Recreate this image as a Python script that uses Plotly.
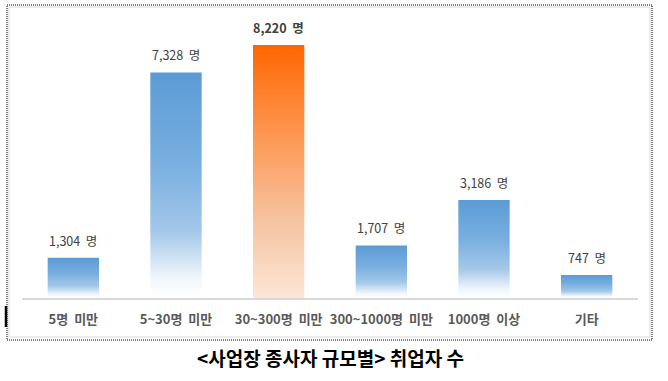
import plotly.graph_objects as go

categories = ["5명 미만", "5~30명 미만", "30~300명 미만", "300~1000명 미만", "1000명 이상", "기타"]
values = [1304, 7328, 8220, 1707, 3186, 747]
value_labels = ["1,304 명", "7,328 명", "8,220 명", "1,707 명", "3,186 명", "747 명"]
highlight = [False, False, True, False, False, False]
caption = "<사업장 종사자 규모별> 취업자 수"

BAR_W = 0.5
blue_scale = [[0, "#ffffff"], [0.08, "#f3f8fd"], [0.3, "#a3c7e8"], [0.6, "#78afe0"], [1, "#5b9bd5"]]
orange_scale = [[0, "#fde6d6"], [0.3, "#f6c4a2"], [0.6, "#fd9d5c"], [1, "#ff6600"]]

FONT = "Noto Sans CJK KR"
fig = go.Figure()
for i, v in enumerate(values):
    xs = [i - BAR_W / 2, i + BAR_W / 2, i + BAR_W / 2, i - BAR_W / 2, i - BAR_W / 2]
    ys = [0, 0, v, v, 0]
    fig.add_trace(go.Scatter(
        x=xs, y=ys, mode="lines", fill="toself",
        line=dict(width=0, color="rgba(0,0,0,0)"),
        fillgradient=dict(type="vertical",
                          colorscale=orange_scale if highlight[i] else blue_scale),
        hoverinfo="skip", showlegend=False,
    ))
    txt = f"<b>{value_labels[i]}</b>" if highlight[i] else value_labels[i]
    txt = txt.replace(" 명", "  명")
    fig.add_annotation(x=i, y=v, xref="x", yref="y", text=txt, showarrow=False,
                       yanchor="bottom", yshift=6,
                       font=dict(family=FONT, size=12.5, color="#404040"))

fig.add_annotation(x=0.5, y=0, xref="paper", yref="paper", text=f"<b>{caption}</b>",
                   showarrow=False, yanchor="middle", yshift=-59,
                   font=dict(family=FONT, size=19, color="#000000"))

def px_x(p):
    return (p - 22) / 616

def px_y(p):
    return (298 - p) / 277

fig.add_shape(type="rect", xref="paper", yref="paper",
              x0=px_x(9), x1=px_x(650), y0=px_y(337), y1=px_y(7),
              line=dict(color="#d9d9d9", width=1), layer="below")
fig.add_shape(type="rect", xref="paper", yref="paper",
              x0=px_x(7), x1=px_x(652), y0=px_y(340), y1=px_y(5),
              line=dict(color="#000000", width=1, dash="1px,1px"))
fig.add_shape(type="line", xref="paper", yref="paper",
              x0=px_x(6), x1=px_x(6), y0=px_y(306), y1=px_y(327),
              line=dict(color="#000000", width=2.5))

fig.update_layout(
    width=668, height=381,
    margin=dict(l=22, r=30, t=21, b=83),
    paper_bgcolor="white", plot_bgcolor="white",
    xaxis=dict(range=[-0.5, len(categories) - 0.5], tickvals=list(range(len(categories))),
               ticktext=[f"<b>{c.replace(' ', '  ')}</b>" for c in categories],
               showgrid=False, zeroline=False, showline=True, linecolor="#d9d9d9", linewidth=1.5,
               ticks="outside", ticklen=9, tickcolor="rgba(0,0,0,0)",
               tickfont=dict(family=FONT, size=13, color="#595959"), fixedrange=True),
    yaxis=dict(range=[0, 9000], visible=False, fixedrange=True),
    showlegend=False,
)
fig.write_html("out.html", config={"displayModeBar": False},
               post_script="document.body.style.margin='0';document.body.style.overflow='hidden';")
